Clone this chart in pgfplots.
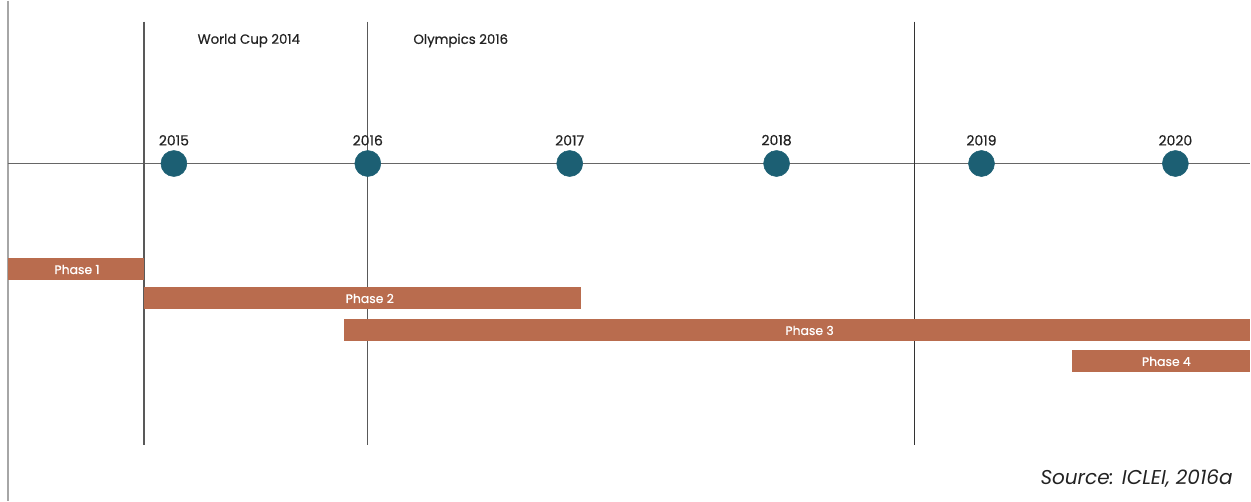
\documentclass[border=0pt]{standalone}
\usepackage{pgfplots}
\pgfplotsset{compat=1.18}
\usepackage{fontspec}
\setmainfont{Poppins}
\newfontfamily\medfont{Poppins}[UprightFeatures={FakeBold=0.6}]

\definecolor{dotc}{HTML}{1C5F73}
\definecolor{barc}{HTML}{B96C4E}
\definecolor{linec}{HTML}{666666}
\definecolor{txt}{HTML}{222222}

\begin{document}
\begin{tikzpicture}
\begin{axis}[
    scale only axis,
    width=938.25pt, height=375.75pt,
    xmin=0, xmax=1251,
    ymin=0, ymax=501,
    y dir=reverse,
    hide axis,
    clip=false,
]
% bounding box
\draw[draw=none] (rel axis cs:0,0) rectangle (rel axis cs:1,1);

% left edge and timeline
\addplot[color=black!35, line width=0.9pt] coordinates {(8,0)(8,501)};
\addplot[color=linec, line width=1pt] coordinates {(8,163)(1251,163)};

% event separators
\addplot[color=black!65, line width=0.9pt] coordinates {(144,21)(144,445)};
\addplot[color=black!65, line width=0.9pt] coordinates {(368,21)(368,445)};
\addplot[color=black!80, line width=0.9pt] coordinates {(915,21)(915,445)};

% phase bars
\addplot[fill=barc, draw=none] coordinates {(8,258)(144,258)(144,280)(8,280)} -- cycle;
\addplot[fill=barc, draw=none] coordinates {(144,287)(581,287)(581,309)(144,309)} -- cycle;
\addplot[fill=barc, draw=none] coordinates {(344,319)(1251,319)(1251,341)(344,341)} -- cycle;
\addplot[fill=barc, draw=none] coordinates {(1073,350)(1251,350)(1251,372)(1073,372)} -- cycle;

% years
\addplot[only marks, mark=*, mark size=9.75pt, color=dotc,
    nodes near coords, point meta=explicit symbolic,
    every node near coord/.style={anchor=south, yshift=10pt, text=txt, font=\medfont\fontsize{10.5}{12}\selectfont}]
    coordinates {
    (174,163)[2015] (368,163)[2016] (570,163)[2017]
    (777,163)[2018] (982,163)[2019] (1176,163)[2020]
    };

\node[text=txt, font=\medfont\fontsize{10}{12}\selectfont] at (axis cs:249,40) {World Cup 2014};
\node[text=txt, font=\medfont\fontsize{10}{12}\selectfont] at (axis cs:461,40) {Olympics 2016};

\node[text=white, font=\medfont\fontsize{9.3}{11}\selectfont] at (axis cs:77,269) {Phase 1};
\node[text=white, font=\medfont\fontsize{9.3}{11}\selectfont] at (axis cs:370,298) {Phase 2};
\node[text=white, font=\medfont\fontsize{9.3}{11}\selectfont] at (axis cs:810,330) {Phase 3};
\node[text=white, font=\medfont\fontsize{9.3}{11}\selectfont] at (axis cs:1167,361) {Phase 4};

\node[anchor=east, text=txt, font=\itshape\fontsize{15}{17}\selectfont] at (axis cs:1238,478) {Source: ICLEI, 2016a};
\end{axis}
\end{tikzpicture}
\end{document}
